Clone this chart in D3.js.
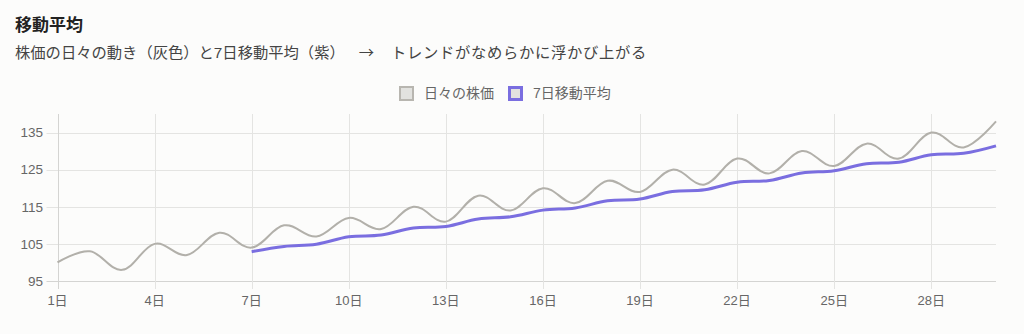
<!DOCTYPE html>
<html><head><meta charset="utf-8">
<script src="https://cdn.jsdelivr.net/npm/d3@7"></script>
<style>
html,body{margin:0;padding:0;background:#fcfcfb;}
svg{display:block;}
text{font-family:"Liberation Sans","Noto Sans CJK JP",sans-serif;}
</style></head>
<body>
<svg id="chart" width="1024" height="334"></svg>
<script>
const days = d3.range(1, 31);
const dayLabels = days.map(d => d + "日");
const dailyPrice = [100,103,98,105,102,108,104,110,107,112,109,115,111,118,114,120,116,122,119,125,121,128,124,130,126,132,128,135,131,138];
const movingAvg7 = [null,null,null,null,null,null,102.9,104.3,104.9,106.9,107.4,109.3,109.7,111.7,112.3,114.1,114.7,116.6,117.1,119.1,119.6,121.6,122.1,124.1,124.7,126.6,127.0,129.0,129.4,131.4];
const yTicks = [95,105,115,125,135];
const xTickDays = [1,4,7,10,13,16,19,22,25,28];
const seriesNames = ["日々の株価","7日移動平均"];
const titleText = "移動平均";
const subtitleParts = ["株価の日々の動き（灰色）と7日移動平均（紫）", "→", "トレンドがなめらかに浮かび上がる"];

const svg = d3.select("#chart");
const L = 57.5, R = 996, T = 114, B = 281;
const x = d3.scaleLinear().domain([1, 30]).range([L, R]);
const y = d3.scaleLinear().domain([95, 140]).range([B, T]);

const grid = "#e4e4e2", tickCol = "#666";

svg.append("text").attr("x", 15).attr("y", 31).attr("font-size", 17).attr("font-weight", "bold").attr("fill", "#222").text(titleText);
const sub = svg.append("text").attr("x", 15).attr("y", 58).attr("font-size", 15.3).attr("fill", "#444");
sub.append("tspan").text(subtitleParts[0]);
sub.append("tspan").attr("dx", 14).style("font-family", "'Noto Sans CJK JP'").text(subtitleParts[1]);
sub.append("tspan").attr("dx", 17).attr("letter-spacing", 0.7).text(subtitleParts[2]);

// horizontal grid
const gy = svg.append("g");
gy.selectAll("line").data(yTicks).join("line")
  .attr("x1", L - 11).attr("x2", R)
  .attr("y1", d => Math.round(y(d)) + 0.5).attr("y2", d => Math.round(y(d)) + 0.5)
  .attr("stroke", d => d === 95 ? "#d4d4d2" : grid).attr("stroke-width", 1);
gy.selectAll("text").data(yTicks).join("text")
  .attr("x", 43).attr("y", d => y(d)).attr("dy", "0.35em").attr("text-anchor", "end")
  .attr("font-size", 13.5).attr("fill", tickCol).text(d => d);

// vertical grid
const gx = svg.append("g");
gx.selectAll("line").data(xTickDays).join("line")
  .attr("x1", d => Math.round(x(d)) + 0.5).attr("x2", d => Math.round(x(d)) + 0.5)
  .attr("y1", T).attr("y2", B + 8)
  .attr("stroke", d => d === 1 ? "#d4d4d2" : grid).attr("stroke-width", 1);
gx.selectAll("text").data(xTickDays).join("text")
  .attr("x", d => x(d)).attr("y", 305).attr("text-anchor", "middle")
  .attr("font-size", 13).attr("fill", tickCol).text(d => dayLabels[d - 1]);

const curve = d3.curveCardinal.tension(-0.1);
const lineGen = d3.line().defined(d => d[1] != null).x(d => x(d[0])).y(d => y(d[1])).curve(curve);

svg.append("path").datum(days.map((d, i) => [d, dailyPrice[i]]))
  .attr("d", lineGen).attr("fill", "none").attr("stroke", "#b2b0aa").attr("stroke-width", 2);
svg.append("path").datum(days.map((d, i) => [d, movingAvg7[i]]).filter(d => d[1] != null))
  .attr("d", lineGen).attr("fill", "none").attr("stroke", "#7a6ee0").attr("stroke-width", 3);

// legend
const lg = svg.append("g");
const items = [
  {name: seriesNames[0], x: 399, stroke: "#b8b6b0", sw: 2},
  {name: seriesNames[1], x: 508, stroke: "#7a6ee0", sw: 3}
];
items.forEach(it => {
  lg.append("rect").attr("x", it.x + it.sw/2).attr("y", 86 + it.sw/2).attr("width", 15 - it.sw).attr("height", 15 - it.sw)
    .attr("fill", "#e2e2df").attr("stroke", it.stroke).attr("stroke-width", it.sw);
  lg.append("text").attr("x", it.x + 25).attr("y", 93.5).attr("dy", "0.35em").attr("font-size", 14).attr("fill", tickCol).text(it.name);
});
</script>
</body></html>
